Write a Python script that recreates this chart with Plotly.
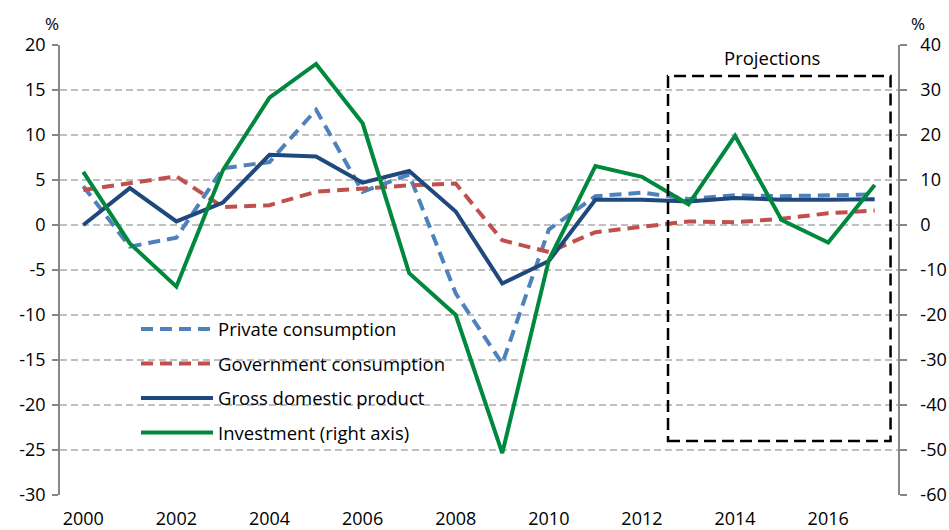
import plotly.graph_objects as go

years = list(range(2000, 2018))
private_consumption = [4.3, -2.4, -1.4, 6.3, 7.0, 12.8, 3.7, 5.6, -7.6, -15.4, -0.5, 3.2, 3.6, 2.9, 3.3, 3.2, 3.3, 3.4]
government_consumption = [3.9, 4.7, 5.4, 2.0, 2.2, 3.7, 4.1, 4.4, 4.6, -1.7, -3.0, -0.8, -0.2, 0.4, 0.3, 0.7, 1.3, 1.6]
gdp = [0.0, 4.1, 0.4, 2.5, 7.8, 7.6, 4.7, 6.0, 1.5, -6.5, -4.0, 2.8, 2.8, 2.6, 3.0, 2.8, 2.8, 2.85]
investment = [11.8, -4.1, -13.7, 12.2, 28.3, 35.8, 22.6, -10.7, -20.0, -50.7, -7.8, 13.1, 10.7, 4.6, 19.8, 1.1, -3.9, 8.9]

x_tickvals = [2000, 2002, 2004, 2006, 2008, 2010, 2012, 2014, 2016]
x_ticktext = [str(v) for v in x_tickvals]
y_left_vals = [20, 15, 10, 5, 0, -5, -10, -15, -20, -25, -30]
y_left_text = ["20", "15", "10", "5", "0", "-5", "-10", "-15", "-20", "-25", "-30"]
y_right_vals = [40, 30, 20, 10, 0, -10, -20, -30, -40, -50, -60]
y_right_text = ["40", "30", "20", "10", "0", "-10", "-20", "-30", "-40", "-50", "-60"]

FONT = "Open Sans"
FS_TICK = 18
FS_TEXT = 18.5
AXIS_GRAY = "#868686"

fig = go.Figure()
fig.add_trace(go.Scatter(x=years, y=private_consumption, name="Private consumption", mode="lines",
                         line=dict(color="#4F81BD", width=4, dash="12px,7px"), legendgroup="a"))
fig.add_trace(go.Scatter(x=years, y=government_consumption, name="Government consumption", mode="lines",
                         line=dict(color="#C0504D", width=4, dash="12px,7px"), legendgroup="b"))
fig.add_trace(go.Scatter(x=years, y=gdp, name="Gross domestic product", mode="lines",
                         line=dict(color="#1F497D", width=4), legendgroup="c"))
fig.add_trace(go.Scatter(x=years, y=investment, name="Investment (right axis)", mode="lines",
                         line=dict(color="#00893D", width=4), yaxis="y2", legendgroup="d"))

fig.update_layout(
    width=949, height=530,
    margin=dict(l=60, r=51, t=45, b=35, autoexpand=False),
    paper_bgcolor="white", plot_bgcolor="white",
    font=dict(family=FONT, size=FS_TICK, color="black"),
    showlegend=True,
    legend=dict(x=0.0907, y=0.4102, xanchor="left", yanchor="top", bgcolor="rgba(0,0,0,0)",
                font=dict(family=FONT, size=FS_TEXT), tracegroupgap=7.5, itemwidth=72),
    xaxis=dict(range=[1999.5, 2017.5], tickmode="array", tickvals=x_tickvals, ticktext=x_ticktext,
               showgrid=False, zeroline=False, showline=False, ticks="", ticklabelstandoff=11,
               automargin=False, tickfont=dict(family=FONT, size=FS_TICK)),
    xaxis2=dict(range=[1999.5, 2017.5], overlaying="x", anchor="free", position=0.6, side="bottom",
                showline=True, linecolor=AXIS_GRAY, linewidth=1.5, showgrid=False, zeroline=False,
                showticklabels=False, ticks="", automargin=False,
                minor=dict(ticks="outside", tick0=1999.5, dtick=1, ticklen=6, tickcolor=AXIS_GRAY, tickwidth=1.5)),
    yaxis=dict(range=[-30, 20], tickmode="array", tickvals=y_left_vals, ticktext=y_left_text,
               showgrid=True, gridcolor="#BFBFBF", griddash="7px,4px", gridwidth=1.5, zeroline=False,
               showline=True, linecolor=AXIS_GRAY, linewidth=1.5, ticks="outside", ticklen=6,
               tickcolor=AXIS_GRAY, tickwidth=1.5, ticklabelstandoff=3, automargin=False,
               tickfont=dict(family=FONT, size=FS_TICK)),
    yaxis2=dict(range=[-60, 40], overlaying="y", side="right", tickmode="array", tickvals=y_right_vals,
                ticktext=y_right_text, showgrid=False, zeroline=False, showline=True, linecolor=AXIS_GRAY,
                linewidth=1.5, ticks="outside", ticklen=7, tickcolor=AXIS_GRAY, tickwidth=1.5,
                ticklabelstandoff=10, automargin=False, tickfont=dict(family=FONT, size=FS_TICK)),
)

# Projections box
fig.add_shape(type="rect", xref="x", yref="y", x0=2012.56, x1=2017.34, y0=-24.0, y1=16.55,
              line=dict(color="black", width=2.5, dash="12px,6px"), fillcolor="rgba(0,0,0,0)", layer="above")
fig.add_annotation(text="Projections", xref="x", yref="y", x=2014.79, y=18.6, showarrow=False,
                   xanchor="center", yanchor="middle", font=dict(family=FONT, size=FS_TEXT, color="black"))
fig.add_annotation(text="%", xref="paper", yref="paper", x=-0.0095, y=1.047, showarrow=False,
                   xanchor="center", yanchor="middle", font=dict(family=FONT, size=17, color="black"))
fig.add_annotation(text="%", xref="paper", yref="paper", x=1.024, y=1.047, showarrow=False,
                   xanchor="center", yanchor="middle", font=dict(family=FONT, size=17, color="black"))

fig.write_html(
    "out.html",
    config={"displayModeBar": False},
    post_script="document.body.style.margin='0';document.body.style.overflow='hidden';",
)
